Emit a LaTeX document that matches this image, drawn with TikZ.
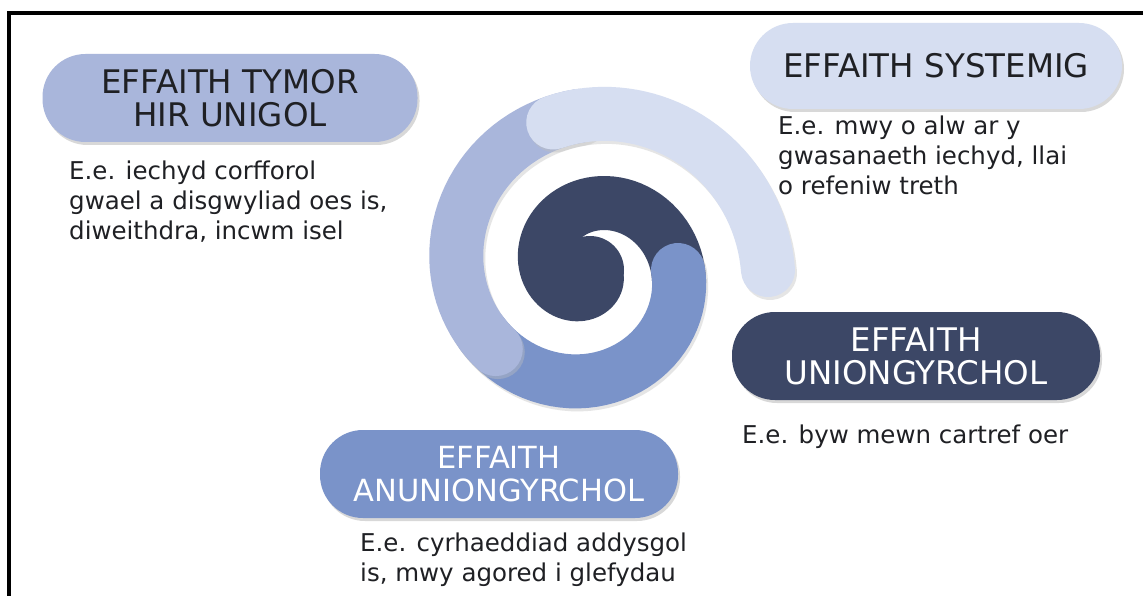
\documentclass[tikz,border=0pt]{standalone}
\usepackage{fontspec}
\setmainfont{DejaVu Sans}
\usetikzlibrary{shadows}
\definecolor{sysblue}{HTML}{D6DEF1}
\definecolor{longblue}{HTML}{A9B6DB}
\definecolor{indblue}{HTML}{7A93C9}
\definecolor{dirblue}{HTML}{3C4766}
\definecolor{inkgrey}{HTML}{1F2024}
\begin{document}
\begin{tikzpicture}[x=1pt,y=-1pt]
\tikzstyle{every node}+=[inner sep=0pt]
\tikzstyle{pill}=[rounded corners=43pt, minimum height=88pt, align=center, font=\fontsize{32.5}{33}\selectfont, drop shadow={shadow xshift=2pt, shadow yshift=-3pt, fill=black!30, opacity=0.5}]
\tikzstyle{note}=[align=left, anchor=north west, text=inkgrey, font=\fontsize{24.5}{30}\selectfont]
\tikzstyle{band}=[line width=54pt, line cap=round]
\tikzstyle{bandshade}=[band, draw=black!25, opacity=0.4, shift={(2,3)}]
\useasboundingbox (0,0) rectangle (1143,596);
\fill[white] (0,0) rectangle (1143,596);
\draw[line width=3.5pt] (9,620) -- (9,13) -- (1170,13);
\fill[dirblue] (590,270) circle (34pt);
\draw[band, dirblue] plot[domain=-350:8, samples=90] ({590+(88+\x/4)*cos(\x)}, {270+(88+\x/4)*sin(\x)});
\draw[bandshade] plot[domain=0:150, samples=40] ({590+(88+\x/4)*cos(\x)}, {270+(88+\x/4)*sin(\x)});
\draw[band, indblue] plot[domain=0:150, samples=40] ({590+(88+\x/4)*cos(\x)}, {270+(88+\x/4)*sin(\x)});
\draw[bandshade] plot[domain=140:266, samples=40] ({590+(88+\x/4)*cos(\x)}, {270+(88+\x/4)*sin(\x)});
\draw[band, longblue] plot[domain=140:266, samples=40] ({590+(88+\x/4)*cos(\x)}, {270+(88+\x/4)*sin(\x)});
\draw[bandshade] plot[domain=256:360, samples=40] ({590+(88+\x/4)*cos(\x)}, {270+(88+\x/4)*sin(\x)});
\draw[band, sysblue] plot[domain=256:360, samples=40] ({590+(88+\x/4)*cos(\x)}, {270+(88+\x/4)*sin(\x)});
\node[pill, fill=longblue, minimum width=375pt, text=inkgrey] (tymor) at (230,98) {EFFAITH TYMOR\\HIR UNIGOL};
\node[pill, fill=sysblue, minimum width=372pt, minimum height=86pt, text=inkgrey] (systemig) at (936,66) {EFFAITH SYSTEMIG};
\node[pill, fill=dirblue, minimum width=368pt, text=white] (uniongyrchol) at (916,356) {EFFAITH\\UNIONGYRCHOL};
\node[pill, fill=indblue, minimum width=358pt, text=white, font=\fontsize{30.5}{33}\selectfont] (anuniongyrchol) at (499,474) {EFFAITH\\ANUNIONGYRCHOL};
\node[note] (tymornote) at (69,161) {E.e. iechyd corfforol\\gwael a disgwyliad oes is,\\diweithdra, incwm isel};
\node[note] (systemignote) at (778,116) {E.e. mwy o alw ar y\\gwasanaeth iechyd, llai\\o refeniw treth};
\node[note] (uniongyrcholnote) at (742,425) {E.e. byw mewn cartref oer};
\node[note] (anuniongyrcholnote) at (360,533) {E.e. cyrhaeddiad addysgol\\is, mwy agored i glefydau};
\end{tikzpicture}
\end{document}
